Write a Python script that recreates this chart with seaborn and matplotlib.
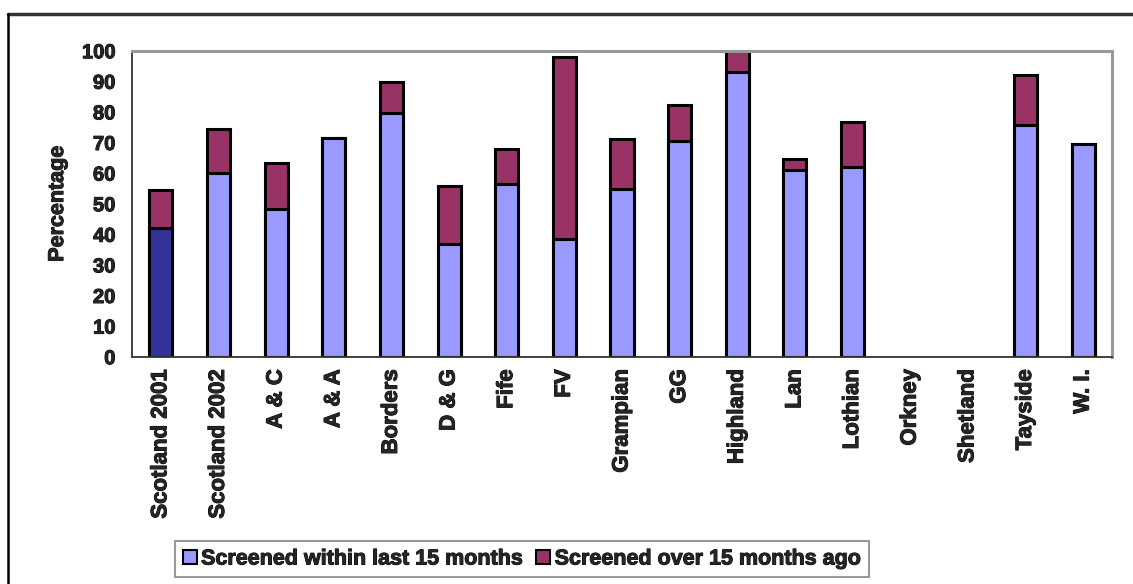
import numpy as np
import pandas as pd
import matplotlib
matplotlib.use("Agg")
import matplotlib.pyplot as plt
import matplotlib.patheffects as pe
from matplotlib.patches import Patch
from matplotlib.lines import Line2D
import seaborn as sns

# Health board areas
areas = ["Scotland 2001", "Scotland 2002", "A & C", "A & A", "Borders", "D & G",
         "Fife", "FV", "Grampian", "GG", "Highland", "Lan", "Lothian",
         "Orkney", "Shetland", "Tayside", "W. I."]

# Percentage screened within the last 15 months
within_15 = [42.0, 60.0, 48.4, 71.6, 79.5, 36.9, 56.5, 38.6, 54.9, 70.4, 93.1,
             61.0, 61.9, np.nan, np.nan, 75.7, 69.6]

# Percentage screened over 15 months ago
over_15 = [12.4, 14.3, 14.8, 0.0, 10.3, 19.0, 11.4, 59.2, 16.1, 11.8, 6.7,
           3.5, 14.7, np.nan, np.nan, 16.3, 0.0]

yticks = list(range(0, 101, 10))

series_labels = ["Screened within last 15 months", "Screened over 15 months ago"]

LIGHT = "#9999FF"
DARK = "#333399"
MAROON = "#993366"

sns.set_style("white")
plt.rcParams["font.family"] = ["Liberation Sans", "DejaVu Sans"]
plt.rcParams["font.weight"] = "bold"

# slightly heavier strokes for all text
heavy = [pe.withStroke(linewidth=0.7, foreground="black")]

df = pd.DataFrame({"area": areas, "within": within_15, "over": over_15})
df["total"] = df["within"] + df["over"]

fig = plt.figure(figsize=(11.33, 5.84), dpi=100)
ax = fig.add_axes([132 / 1133, 1 - 356.7 / 584, (1112 - 132) / 1133, (356.7 - 50.7) / 584])

# Upper segment: full stacked height in maroon
sns.barplot(data=df, x="area", y="total", order=areas, color=MAROON,
            width=0.4, edgecolor="black", linewidth=2.2, saturation=1,
            ax=ax, errorbar=None)

# Lower segment: within 15 months, first bar highlighted
base_palette = {a: (DARK if i == 0 else LIGHT) for i, a in enumerate(areas)}
sns.barplot(data=df, x="area", y="within", order=areas, hue="area",
            palette=base_palette, width=0.4, edgecolor="black", linewidth=2.2,
            saturation=1, ax=ax, errorbar=None, legend=False)

ax.set_ylim(0, 100)
ax.set_xlim(-0.5, len(areas) - 0.5)
ax.set_yticks(yticks)
ax.set_yticklabels([str(t) for t in yticks], fontsize=14.5, fontweight="bold")
ax.set_xticks(range(len(areas)))
ax.set_xticklabels(areas, rotation=90, fontsize=16, fontweight="bold",
                   va="top", ha="center")
ax.set_xticks(np.arange(-0.5, len(areas), 1.0), minor=True)
ax.tick_params(axis="x", which="major", length=0, pad=9)
ax.tick_params(axis="x", which="minor", length=6, width=1.2, color="#333333",
               direction="out")
ax.tick_params(axis="y", length=6, width=1.2, color="#333333", direction="out",
               pad=6)
ax.set_xlabel("")
ax.set_ylabel("Percentage", fontsize=15.5, fontweight="bold", labelpad=10)

for lab in ax.get_xticklabels() + ax.get_yticklabels() + [ax.yaxis.label]:
    lab.set_path_effects(heavy)

for side in ["left", "bottom"]:
    ax.spines[side].set_color("#333333")
    ax.spines[side].set_linewidth(1.3)
for side in ["top", "right"]:
    ax.spines[side].set_visible(True)
    ax.spines[side].set_color("#999999")
    ax.spines[side].set_linewidth(2.2)

handles = [Patch(facecolor=LIGHT, edgecolor="black", linewidth=1.5),
           Patch(facecolor=MAROON, edgecolor="black", linewidth=1.5)]
leg = fig.legend(handles, series_labels, loc="center", ncol=2,
                 bbox_to_anchor=(522 / 1133, 1 - 559 / 584),
                 prop={"size": 15.5, "weight": "bold"},
                 frameon=True, fancybox=False, handlelength=0.65,
                 handleheight=0.65, handletextpad=0.2, columnspacing=0.6,
                 borderpad=0.35)
leg.get_frame().set_edgecolor("#808080")
leg.get_frame().set_linewidth(1.5)
for t in leg.get_texts():
    t.set_path_effects(heavy)

# Outer frame around the figure panel
fig.add_artist(Line2D([8 / 1133, 1.0], [1 - 14 / 584, 1 - 14 / 584],
                      transform=fig.transFigure, color="#333333", linewidth=2.5))
fig.add_artist(Line2D([8 / 1133, 8 / 1133], [0.0, 1 - 14 / 584],
                      transform=fig.transFigure, color="black", linewidth=1.8))

fig.savefig("out.png", dpi=100)
